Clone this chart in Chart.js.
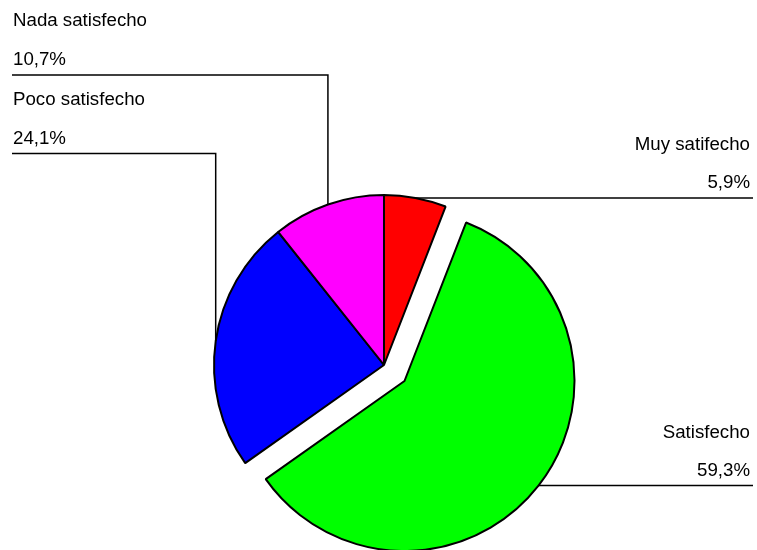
<!DOCTYPE html>
<html>
<head>
<meta charset="utf-8">
<script src="https://cdn.jsdelivr.net/npm/chart.js@4/dist/chart.umd.min.js"></script>
<style>
  html, body { margin: 0; padding: 0; background: #fff; }
  canvas { display: block; }
</style>
</head>
<body>
<canvas id="c" width="757" height="550"></canvas>
<script>
// ---- data ----
const categories = ["Muy satifecho", "Satisfecho", "Poco satisfecho", "Nada satisfecho"];
const values = [5.9, 59.3, 24.1, 10.7];
const valueLabels = ["5,9%", "59,3%", "24,1%", "10,7%"];
const colors = ["#ff0000", "#00ff00", "#0000ff", "#ff00ff"];

// ---- label / explode styling (not data) ----
const explode = [0, 26, 0, 0];
const labelSide = ["right", "right", "left", "left"];
const leftLineY = { 2: 153.5, 3: 75 };

const explodePlugin = {
  id: 'explodeSlices',
  afterDatasetUpdate(chart, args) {
    args.meta.data.forEach((arc, i) => {
      const d = explode[i] || 0;
      if (!d) return;
      const mid = (arc.startAngle + arc.endAngle) / 2;
      arc.x += Math.cos(mid) * d;
      arc.y += Math.sin(mid) * d;
    });
  }
};

const labelPlugin = {
  id: 'leaderLabels',
  afterDatasetsDraw(chart) {
    const ctx = chart.ctx;
    const meta = chart.getDatasetMeta(0);
    ctx.save();
    ctx.strokeStyle = '#000';
    ctx.lineWidth = 1.5;
    ctx.fillStyle = '#000';
    ctx.font = '18.7px "Liberation Sans", Arial, sans-serif';
    ctx.textBaseline = 'alphabetic';
    meta.data.forEach((arc, i) => {
      const mid = (arc.startAngle + arc.endAngle) / 2;
      const px = arc.x + Math.cos(mid) * arc.outerRadius;
      const py = arc.y + Math.sin(mid) * arc.outerRadius;
      ctx.beginPath();
      if (labelSide[i] === 'right') {
        const ly = py;
        ctx.moveTo(px, ly);
        ctx.lineTo(753, ly);
        ctx.stroke();
        ctx.textAlign = 'right';
        ctx.fillText(categories[i], 750, ly - 47.5);
        ctx.fillText(valueLabels[i], 750, ly - 9.5);
      } else {
        const ly = leftLineY[i];
        ctx.moveTo(px, py);
        ctx.lineTo(px, ly);
        ctx.lineTo(12, ly);
        ctx.stroke();
        ctx.textAlign = 'left';
        ctx.fillText(categories[i], 13, ly - 49);
        ctx.fillText(valueLabels[i], 13, ly - 10);
      }
    });
    ctx.restore();
  }
};

new Chart(document.getElementById('c'), {
  type: 'pie',
  data: {
    labels: categories,
    datasets: [{
      data: values,
      backgroundColor: colors,
      borderColor: '#000',
      borderWidth: 2
    }]
  },
  options: {
    responsive: false,
    devicePixelRatio: 1,
    animation: false,
    events: [],
    radius: 170,
    layout: { padding: { left: 11, right: 0, top: 180, bottom: 0 } },
    plugins: {
      legend: { display: false },
      tooltip: { enabled: false }
    }
  },
  plugins: [explodePlugin, labelPlugin]
});
</script>
</body>
</html>
